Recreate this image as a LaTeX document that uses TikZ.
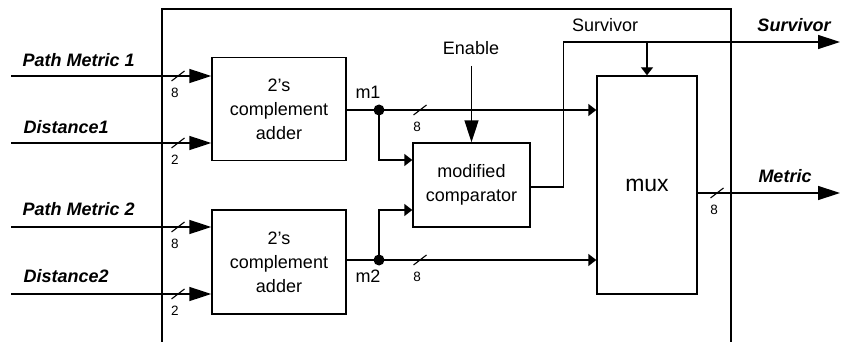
\documentclass[tikz,border=0pt]{standalone}
\usepackage{fontspec}
\setmainfont{Liberation Sans}
\usetikzlibrary{arrows.meta}
\tikzset{
  lbl/.style={font=\fontsize{18}{24}\selectfont, inner sep=0pt},
  sig/.style={font=\fontsize{18}{24}\selectfont\bfseries\itshape, inner sep=0pt},
  num/.style={font=\fontsize{13.5}{14}\selectfont, inner sep=0pt},
  blk/.style={draw, align=center, font=\fontsize{18}{24}\selectfont, inner sep=0pt},
  bigarr/.style={-{Triangle[length=22pt,width=14pt]}},
  smallarr/.style={-{Triangle[length=8pt,width=12pt]}},
  bus/.pic={\draw[line width=1.1pt] (-6.5,5) -- (6.5,-5); \node[num] (-n) at (-3,17) {#1};}
}
\begin{document}
\begin{tikzpicture}[x=1pt,y=-1pt,line width=1.4pt]
\useasboundingbox (0,0) rectangle (842,342);
% outer frame
\draw (162,342) -- (162,9) -- (731,9) -- (731,342);
% blocks
\node[blk, minimum width=134pt, minimum height=103pt] (add1) at (279,109) {2’s\\complement\\adder};
\node[blk, minimum width=134pt, minimum height=104pt] (add2) at (279,262) {2’s\\complement\\adder};
\node[blk, minimum width=117pt, minimum height=84pt] (cmp) at (471.5,185) {modified\\comparator};
\node[blk, minimum width=100pt, minimum height=218pt, font=\fontsize{23}{26}\selectfont] (mux) at (647,185) {mux};
% inputs
\coordinate (pm1) at (11,76);
\coordinate (d1) at (11,143);
\coordinate (pm2) at (11,227);
\coordinate (d2) at (11,294);
\draw[bigarr] (pm1) -- (pm1 -| add1.west);
\draw[bigarr] (d1) -- (d1 -| add1.west);
\draw[bigarr] (pm2) -- (pm2 -| add2.west);
\draw[bigarr] (d2) -- (d2 -| add2.west);
\node[sig, anchor=base west] (tpm1) at (22,67) {Path Metric 1};
\node[sig, anchor=base west] (td1) at (23,133) {Distance1};
\node[sig, anchor=base west] (tpm2) at (22,215) {Path Metric 2};
\node[sig, anchor=base west] (td2) at (23,282) {Distance2};
\pic (b1) at (178,76) {bus=8};
\pic (b2) at (178,143) {bus=2};
\pic (b3) at (178,227) {bus=8};
\pic (b4) at (178,294) {bus=2};
% m1
\coordinate (m1dot) at (379,110);
\draw (add1.east |- m1dot) -- (m1dot);
\draw[smallarr] (m1dot) -- (m1dot -| mux.west);
\draw[smallarr] (m1dot) |- ([yshift=25pt]cmp.west);
\fill (m1dot) circle (5.5pt);
\node[lbl, anchor=base] (lm1) at (368,99) {m1};
\pic (b5) at (420,110) {bus=8};
% m2
\coordinate (m2dot) at (379,260);
\draw (add2.east |- m2dot) -- (m2dot);
\draw[smallarr] (m2dot) -- (m2dot -| mux.west);
\draw[smallarr] (m2dot) |- ([yshift=-25pt]cmp.west);
\fill (m2dot) circle (5.5pt);
\node[lbl, anchor=base] (lm2) at (368,282) {m2};
\pic (b6) at (420,260) {bus=8};
% enable
\coordinate (en) at (471.5,66);
\node[lbl, anchor=base] (ten) at (471,55) {Enable};
\draw[bigarr] (en) -- (cmp.north);
% survivor
\coordinate (sout) at (840,42);
\draw[bigarr] ([yshift=-2pt]cmp.east) -- ++(33,0) |- (sout);
\draw[smallarr] (sout -| mux.north) -- (mux.north);
\node[lbl, anchor=base] (tsv) at (605,32) {Survivor};
\node[sig, anchor=base] (tsvo) at (794,32) {Survivor};
% metric
\coordinate (mout) at (840,193);
\draw[bigarr] (mout -| mux.east) -- (mout);
\pic (b7) at (717,193) {bus=8};
\node[sig, anchor=base] (tmet) at (785,182) {Metric};
\end{tikzpicture}
\end{document}
